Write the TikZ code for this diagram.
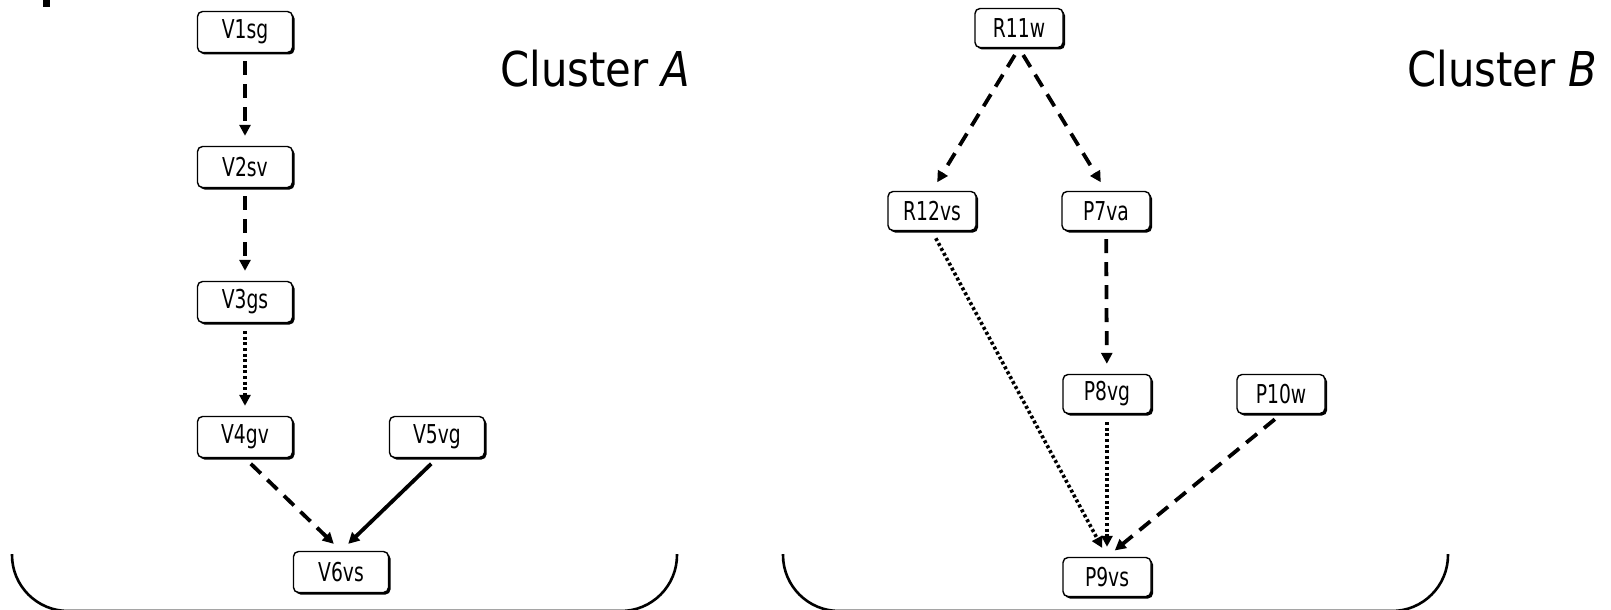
\documentclass[tikz,border=0pt]{standalone}
\usepackage{fontspec}
\usetikzlibrary{arrows.meta,shadows}
\newfontfamily\boxfont[FakeStretch=0.72]{DejaVu Sans}
\newfontfamily\clusterfont[FakeStretch=0.87]{DejaVu Sans}

\tikzset{
  unit/.style={draw, rounded corners=2.5pt, fill=white, line width=0.7pt,
    minimum width=47.5pt, minimum height=20.5pt, inner sep=0pt,
    font=\boxfont\fontsize{13}{14}\selectfont,
    drop shadow={shadow xshift=1pt, shadow yshift=-1pt, fill=black, opacity=1}},
  narrow/.style={minimum width=44pt, minimum height=19.5pt},
  link/.style={-{Triangle[length=5.5pt,width=5.5pt]}, line width=1.9pt, shorten <=4pt, shorten >=5pt},
  dashlink/.style={link, dash pattern=on 7pt off 4.5pt},
  dotlink/.style={link, line width=1.8pt, dash pattern=on 1.5pt off 1.3pt},
  cluster/.style={line width=1.3pt, rounded corners=28pt},
}

\begin{document}
\begin{tikzpicture}[x=0.5pt,y=0.5pt,yscale=-1,xscale=1]
\useasboundingbox (0,0) rectangle (1611,610);

%Shape: small mark
\fill (43,0) rectangle (50,7);

%Shape: Cluster brackets
\draw[cluster] (12,554) |- (345,611) -| (677,554);
\draw[cluster] (783,554) |- (1115,611) -| (1448,554);

% Cluster A nodes
\node[unit] (v1) at (245,32) {V1sg};
\node[unit] (v2) at (245,167) {V2sv};
\node[unit] (v3) at (245,302) {V3gs};
\node[unit] (v4) at (245,437) {V4gv};
\node[unit] (v5) at (437,437) {V5vg};
\node[unit] (v6) at (341,572) {V6vs};

% Cluster B nodes
\node[unit,narrow] (r11) at (1019,28) {R11w};
\node[unit,narrow] (r12) at (932,211) {R12vs};
\node[unit,narrow] (p7) at (1106,211) {P7va};
\node[unit,narrow] (p8) at (1107,394) {P8vg};
\node[unit,narrow] (p10) at (1281,394) {P10w};
\node[unit,narrow] (p9) at (1107,577) {P9vs};

% Text Node
\node[anchor=base west, inner sep=0pt, font=\clusterfont\fontsize{24}{28}\selectfont] (clA) at (500,87) {Cluster \textit{A}};
% Text Node
\node[anchor=base east, inner sep=0pt, font=\clusterfont\fontsize{24}{28}\selectfont] (clB) at (1598,87) {Cluster \textit{B}};

% Edges, cluster A
\draw[dashlink] (v1) -- (v2);
\draw[dashlink] (v2) -- (v3);
\draw[dotlink] (v3) -- (v4);
\draw[dashlink] (v4.south) -- (v6.north);
\draw[link] (v5.south) -- (v6.north);

% Edges, cluster B
\draw[dashlink] (r11.south) -- (r12.north);
\draw[dashlink] (r11.south) -- (p7.north);
\draw[dashlink] (p7) -- (p8);
\draw[dotlink] (r12.south) -- (p9.north);
\draw[dotlink] (p8) -- (p9);
\draw[dashlink] (p10.south) -- (p9.north);

\end{tikzpicture}
\end{document}
